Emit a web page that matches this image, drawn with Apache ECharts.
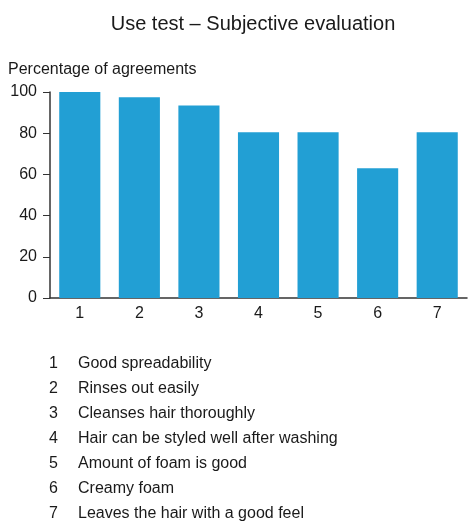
<!DOCTYPE html>
<html>
<head>
<meta charset="utf-8">
<script src="https://cdn.jsdelivr.net/npm/echarts@6/dist/echarts.min.js"></script>
<style>
  html, body { margin: 0; padding: 0; background: #fff; }
  #chart { width: 470px; height: 522px; }
</style>
</head>
<body>
<div id="chart"></div>
<script>
// Attribute numbers on the x axis
const categories = ['1', '2', '3', '4', '5', '6', '7'];
// Share of testers agreeing with each statement (%)
const agreements = [100, 97.5, 93.5, 80.5, 80.5, 63, 80.5];
// Statements behind each number
const statements = [
  'Good spreadability',
  'Rinses out easily',
  'Cleanses hair thoroughly',
  'Hair can be styled well after washing',
  'Amount of foam is good',
  'Creamy foam',
  'Leaves the hair with a good feel'
];
const yTicks = [0, 20, 40, 60, 80, 100];

const FONT = '"Liberation Sans", Arial, sans-serif';
const chart = echarts.init(document.getElementById('chart'), null, { renderer: 'canvas' });

const legendItems = [];
statements.forEach((s, i) => {
  const y = 356 + i * 25;
  legendItems.push({
    type: 'text', left: 49, top: y,
    style: { text: categories[i], font: '16px ' + FONT, fill: '#1a1a1a' }
  });
  legendItems.push({
    type: 'text', left: 78, top: y,
    style: { text: s, font: '16px ' + FONT, fill: '#1a1a1a' }
  });
});

chart.setOption({
  animation: false,
  backgroundColor: '#fff',
  title: {
    text: 'Use test – Subjective evaluation',
    left: 248, top: 9, textAlign: 'center',
    textStyle: { fontFamily: FONT, fontSize: 20, fontWeight: 'normal', color: '#1a1a1a' }
  },
  grid: { left: 50, right: 3, top: 92, bottom: 224, containLabel: false },
  xAxis: {
    type: 'category',
    data: categories,
    axisLine: { lineStyle: { color: '#333', width: 1.5 } },
    axisTick: { show: false },
    axisLabel: { fontFamily: FONT, fontSize: 16, color: '#1a1a1a', margin: 8 }
  },
  yAxis: {
    type: 'value',
    min: yTicks[0], max: yTicks[yTicks.length - 1], interval: 20,
    name: 'Percentage of agreements',
    nameLocation: 'end',
    nameGap: 14,
    nameTextStyle: { fontFamily: FONT, fontSize: 16, color: '#1a1a1a', align: 'left', padding: [0, 0, 0, -42] },
    axisLine: { show: true, lineStyle: { color: '#333', width: 1.5 } },
    axisTick: { show: true, length: 7, lineStyle: { color: '#333' } },
    splitLine: { show: false },
    axisLabel: { fontFamily: FONT, fontSize: 16, color: '#1a1a1a', margin: 13 }
  },
  series: [{
    type: 'bar',
    data: agreements,
    barWidth: '69%',
    itemStyle: { color: '#229fd4' }
  }],
  graphic: legendItems
});
</script>
</body>
</html>
